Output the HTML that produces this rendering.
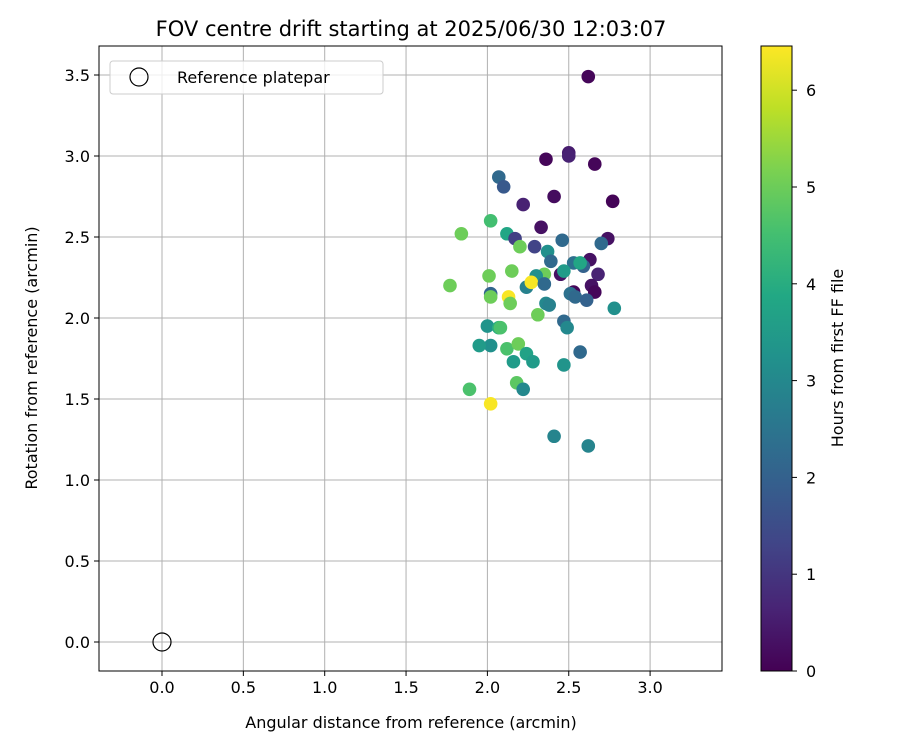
<!DOCTYPE html>
<html><head><meta charset="utf-8"><style>
body{margin:0;background:#fff;font-family:"Liberation Sans","DejaVu Sans",sans-serif}
svg text{font-family:"DejaVu Sans","Liberation Sans",sans-serif;fill:#000}
</style></head><body>
<svg id="c" width="900" height="750" xmlns="http://www.w3.org/2000/svg">
<text x="411" y="36" font-size="21" text-anchor="middle">FOV centre drift starting at 2025/06/30 12:03:07</text>
<g id="grid"></g><g id="pts"></g><g id="axes"></g><g id="cbar"></g>
<g>
<rect x="110" y="61" width="273" height="33" rx="3" fill="#fff" fill-opacity="0.8" stroke="#ccc"/>
<circle cx="139" cy="77" r="9" fill="none" stroke="#000" stroke-width="1.2"/>
<text x="177" y="83" font-size="16">Reference platepar</text>
</g>
<text x="411" y="728" font-size="16" text-anchor="middle">Angular distance from reference (arcmin)</text>
<text transform="translate(37,358) rotate(-90)" font-size="16" text-anchor="middle">Rotation from reference (arcmin)</text>
<text transform="translate(843,358) rotate(-90)" font-size="16" text-anchor="middle">Hours from first FF file</text>
</svg>
<script>
const xVals=[2.62,2.50,2.50,2.36,2.66,2.07,2.10,2.41,2.77,2.22,2.33,2.02,1.84,2.12,2.17,2.74,2.29,2.20,2.46,2.37,2.70,2.39,2.63,2.59,2.53,2.57,2.68,2.01,2.15,2.35,2.45,2.47,2.30,2.24,2.27,2.35,1.77,2.64,2.66,2.53,2.51,2.54,2.61,2.13,2.02,2.02,2.14,2.36,2.38,2.78,2.31,2.47,2.49,2.00,2.07,2.08,2.02,1.95,2.12,2.19,2.57,2.24,2.16,2.28,2.47,2.18,1.89,2.22,2.02,2.41,2.62];
const yVals=[3.49,3.02,3.00,2.98,2.95,2.87,2.81,2.75,2.72,2.70,2.56,2.60,2.52,2.52,2.49,2.49,2.44,2.44,2.48,2.41,2.46,2.35,2.36,2.32,2.34,2.34,2.27,2.26,2.29,2.27,2.27,2.29,2.26,2.19,2.22,2.21,2.20,2.20,2.16,2.16,2.15,2.13,2.11,2.13,2.15,2.13,2.09,2.09,2.08,2.06,2.02,1.98,1.94,1.95,1.94,1.94,1.83,1.83,1.81,1.84,1.79,1.78,1.73,1.73,1.71,1.60,1.56,1.56,1.47,1.27,1.21];
const hours=[0.1,0.5,0.6,0.1,0.1,2.2,1.8,0.2,0.05,0.6,0.3,4.5,5.0,3.8,1.2,0.3,1.3,5.0,2.2,3.2,2.2,2.2,0.3,2.0,2.4,3.8,0.6,5.0,5.0,5.0,0.3,3.5,3.2,2.8,6.4,2.2,5.0,0.3,0.1,0.1,2.4,2.2,2.0,6.4,2.1,5.0,5.0,3.0,2.8,3.2,5.0,2.2,3.0,3.3,4.0,4.6,3.2,3.5,4.6,5.0,2.2,3.7,3.5,3.5,3.3,4.8,4.6,3.0,6.4,2.9,2.9];
const xTicks=[0,0.5,1,1.5,2,2.5,3];
const yTicks=[0,0.5,1,1.5,2,2.5,3,3.5];
const cTicks=[0,1,2,3,4,5,6];
const hMax=6.45;
const L=99,R=722,T=46,B=671;
const sx=v=>162+v*162.7, sy=v=>642-v*162;
const V=[[68,1,84],[72,36,117],[65,68,135],[53,95,141],[42,120,142],[33,145,140],[34,168,132],[68,191,112],[122,209,81],[189,223,38],[253,231,37]];
function vir(t){t=Math.max(0,Math.min(1,t))*10;const i=Math.min(9,Math.floor(t)),f=t-i;const a=V[i],b=V[i+1];return `rgb(${a.map((c,k)=>Math.round(c+(b[k]-c)*f)).join(',')})`;}
const NS='http://www.w3.org/2000/svg';
function mk(tag,at,par){const e=document.createElementNS(NS,tag);for(const k in at)e.setAttribute(k,at[k]);document.getElementById(par).appendChild(e);return e;}
xTicks.forEach(v=>{const x=sx(v);
const g=mk('line',{x1:x,x2:x,y1:T,y2:B,stroke:'#b0b0b0','stroke-width':1},'grid');


mk('line',{x1:x,x2:x,y1:B,y2:B+5,stroke:'#000'},'axes');
const t=mk('text',{x:x,y:B+22,'font-size':16,'text-anchor':'middle'},'axes');t.textContent=v.toFixed(1);

});
yTicks.forEach(v=>{const y=sy(v);
const g=mk('line',{x1:L,x2:R,y1:y,y2:y,stroke:'#b0b0b0','stroke-width':1},'grid');


mk('line',{x1:L-5,x2:L,y1:y,y2:y,stroke:'#000'},'axes');
const t=mk('text',{x:L-9,y:y+6,'font-size':16,'text-anchor':'end'},'axes');t.textContent=v.toFixed(1);

});
const fr=mk('rect',{x:L,y:T,width:R-L,height:B-T,fill:'none',stroke:'#000','stroke-width':1},'axes');


const ref=mk('circle',{cx:sx(0),cy:sy(0),r:9,fill:'none',stroke:'#000','stroke-width':1.2},'pts');


xVals.forEach((x,i)=>{const c=mk('circle',{cx:sx(x),cy:sy(yVals[i]),r:6.8,fill:vir(hours[i]/hMax)},'pts');

});
// colorbar
const CX=761,CW=31,cy=v=>671-v*96.8;
const defs=mk('defs',{},'cbar');const lg=document.createElementNS(NS,'linearGradient');lg.setAttribute('id','vg');lg.setAttribute('x1','0');lg.setAttribute('y1','1');lg.setAttribute('x2','0');lg.setAttribute('y2','0');defs.appendChild(lg);
for(let i=0;i<=10;i++){const s=document.createElementNS(NS,'stop');s.setAttribute('offset',i/10);s.setAttribute('stop-color',vir(i/10));lg.appendChild(s);}
const cb=mk('rect',{x:CX,y:T,width:CW,height:B-T,fill:'url(#vg)',stroke:'#000','stroke-width':1},'cbar');


cTicks.forEach(v=>{const y=cy(v);mk('line',{x1:CX+CW,x2:CX+CW+5,y1:y,y2:y,stroke:'#000'},'cbar');
const t=mk('text',{x:CX+CW+14,y:y+6,'font-size':16},'cbar');t.textContent=v;

});
</script>
</body></html>
